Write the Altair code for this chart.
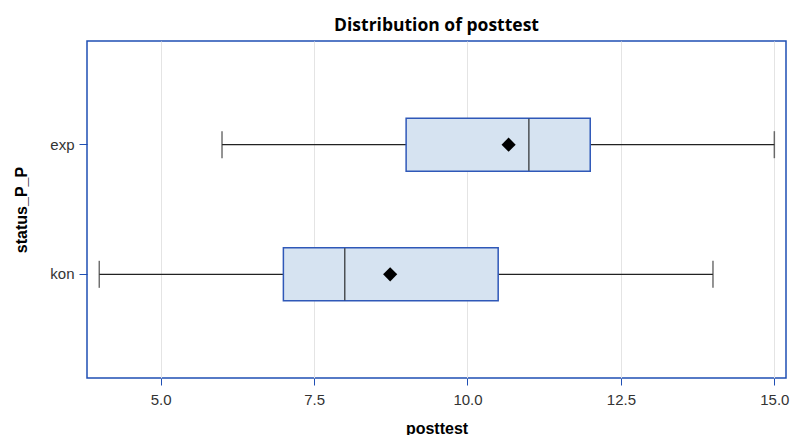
import altair as alt
import pandas as pd

groups = ["exp", "kon"]
mins = [6, 4]
q1s = [9, 7]
medians = [11, 8]
q3s = [12, 10.5]
maxs = [15, 14]
means = [10.67, 8.74]
x_ticks = [5.0, 7.5, 10.0, 12.5, 15.0]

df = pd.DataFrame({"group": groups, "min": mins, "q1": q1s, "median": medians,
                   "q3": q3s, "max": maxs, "mean": means})

BLUE = "#1F4FB4"
xscale = alt.Scale(domain=[3.8, 15.19], nice=False, zero=False)
xaxis = alt.Axis(values=x_ticks, format=".1f", title="posttest", grid=True,
                 gridColor="#E4E4E4", tickColor=BLUE, tickSize=7, labelPadding=7,
                 titlePadding=13)

base = alt.Chart(df).encode(
    y=alt.Y("group:N", sort=groups,
            scale=alt.Scale(domain=groups, paddingInner=0, paddingOuter=0.3),
            axis=alt.Axis(title="status_P_P", tickColor=BLUE, tickSize=8,
                          labelPadding=5, grid=False, titlePadding=20))
)

whisker = base.mark_rule(color="#222222", strokeWidth=1.2).encode(
    x=alt.X("min:Q", scale=xscale, axis=xaxis), x2="max:Q")
cap_lo = base.mark_tick(size=27, thickness=1.5, color="#333333").encode(
    x=alt.X("min:Q", scale=xscale, axis=xaxis))
cap_hi = base.mark_tick(size=27, thickness=1.5, color="#333333").encode(
    x=alt.X("max:Q", scale=xscale, axis=xaxis))
box = base.mark_bar(size=53, fill="#D6E3F1", stroke="#2F58B8", strokeWidth=1.5).encode(
    x=alt.X("q1:Q", scale=xscale, axis=xaxis), x2="q3:Q")
median = base.mark_tick(size=52, thickness=1.5, color="#111111").encode(
    x=alt.X("median:Q", scale=xscale, axis=xaxis))
mean = base.mark_point(shape="diamond", filled=True, size=200, color="#000000",
                       opacity=1).encode(x=alt.X("mean:Q", scale=xscale, axis=xaxis))

chart = alt.layer(whisker, cap_lo, cap_hi, box, median, mean).properties(
    width=699, height=337,
    title=alt.TitleParams("Distribution of posttest", font="Open Sans", fontSize=17.5,
                          fontWeight="bold", anchor="middle", offset=7, color="#000000"),
    autosize=alt.AutoSizeParams(type="none"),
    padding={"left": 87, "top": 41, "right": 4, "bottom": 57},
).configure_view(
    stroke=BLUE, strokeWidth=1.5
).configure_axis(
    domain=False, labelFont="Liberation Sans", labelFontSize=15, labelColor="#333333",
    titleFont="Liberation Sans", titleFontSize=16, titleFontWeight="bold",
    titleColor="#000000"
)

chart.save("out.html", embed_options={"renderer": "svg", "actions": False})
